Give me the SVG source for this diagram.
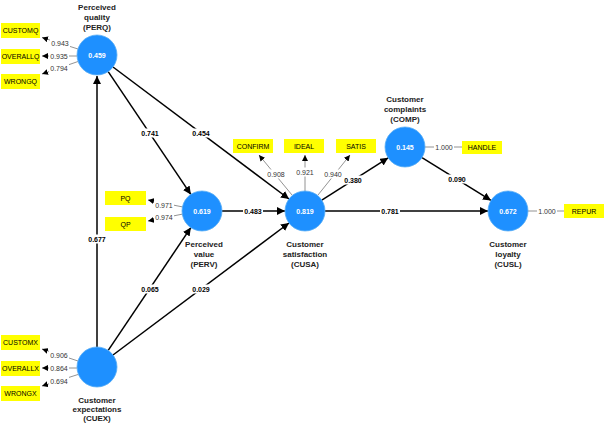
<svg xmlns="http://www.w3.org/2000/svg" width="605" height="425" viewBox="0 0 605 425">
<defs>
<marker id="ah" viewBox="0 0 10 10" refX="10" refY="5" markerWidth="8" markerHeight="8" markerUnits="userSpaceOnUse" orient="auto"><path d="M0,0 L10,5 L0,10 z" fill="#000"/></marker>
<marker id="as" viewBox="0 0 10 10" refX="10" refY="5" markerWidth="6" markerHeight="6" markerUnits="userSpaceOnUse" orient="auto"><path d="M0,0 L10,5 L0,10 z" fill="#000"/></marker>
<style>
text{font-family:"Liberation Sans",Arial,sans-serif;text-anchor:middle;dominant-baseline:central}
.lv{fill:#1E90FF;stroke:#5aaef5;stroke-width:0.8}
.val{fill:#fff;font-weight:bold;font-size:7px}
.nl{font-weight:bold;font-size:8px;fill:#222}
.box{fill:#FFFF00}
.bt{font-size:7px;fill:#000}
.path{stroke:#000;stroke-width:1.5;fill:none;marker-end:url(#ah)}
.ld{stroke:#777;stroke-width:0.8;fill:none;marker-end:url(#as)}
.ld0{stroke:#777;stroke-width:0.8;fill:none}
.bg{fill:#fff}
.pc{font-weight:bold;font-size:7px;fill:#000}
.lc{font-size:7px;fill:#333}
</style>
</defs>
<rect width="605" height="425" fill="#fff"/>
<g id="connectors">
<line class="path" x1="97" y1="347" x2="97" y2="76"/>
<line class="path" x1="108.2" y1="350.4" x2="190.8" y2="227.6"/>
<line class="path" x1="113" y1="355" x2="289" y2="223"/>
<line class="path" x1="108.2" y1="71.6" x2="190.8" y2="194.4"/>
<line class="path" x1="113" y1="67" x2="289" y2="199"/>
<line class="path" x1="222" y1="211" x2="285" y2="211"/>
<line class="path" x1="321.8" y1="200.2" x2="388.2" y2="157.8"/>
<line class="path" x1="325" y1="211" x2="488" y2="211"/>
<line class="path" x1="422" y1="157.6" x2="491" y2="200.4"/>
<rect class="bg" x="87" y="234.5" width="20" height="9"/><text class="pc" x="97" y="239">0.677</text>
<rect class="bg" x="140" y="284.5" width="20" height="9"/><text class="pc" x="150" y="289">0.065</text>
<rect class="bg" x="191" y="284.5" width="20" height="9"/><text class="pc" x="201" y="289">0.029</text>
<rect class="bg" x="140" y="128.5" width="20" height="9"/><text class="pc" x="150" y="133">0.741</text>
<rect class="bg" x="191" y="128.5" width="20" height="9"/><text class="pc" x="201" y="133">0.454</text>
<rect class="bg" x="243" y="206.5" width="20" height="9"/><text class="pc" x="253" y="211">0.483</text>
<rect class="bg" x="343" y="175.5" width="20" height="9"/><text class="pc" x="353" y="180">0.380</text>
<rect class="bg" x="380" y="206.5" width="20" height="9"/><text class="pc" x="390" y="211">0.781</text>
<rect class="bg" x="447" y="174.5" width="20" height="9"/><text class="pc" x="457" y="179">0.090</text>
<line class="ld" x1="78" y1="49" x2="42" y2="37.5"/>
<line class="ld" x1="77" y1="56" x2="42" y2="56"/>
<line class="ld" x1="78" y1="61.5" x2="42" y2="74"/>
<rect class="bg" x="50" y="38.5" width="20" height="9"/><text class="lc" x="60" y="43">0.943</text>
<rect class="bg" x="49" y="51.5" width="20" height="9"/><text class="lc" x="59" y="56">0.935</text>
<rect class="bg" x="49" y="64" width="20" height="9"/><text class="lc" x="59" y="68.5">0.794</text>
<line class="ld" x1="78" y1="361" x2="42" y2="349"/>
<line class="ld" x1="77" y1="368" x2="42" y2="368"/>
<line class="ld" x1="78" y1="374.5" x2="42" y2="386"/>
<rect class="bg" x="49" y="350.5" width="20" height="9"/><text class="lc" x="59" y="355">0.906</text>
<rect class="bg" x="49" y="363.5" width="20" height="9"/><text class="lc" x="59" y="368">0.864</text>
<rect class="bg" x="49" y="376.5" width="20" height="9"/><text class="lc" x="59" y="381">0.694</text>
<line class="ld" x1="183" y1="207" x2="148" y2="200"/>
<line class="ld" x1="183" y1="214" x2="148" y2="221"/>
<rect class="bg" x="154" y="200.5" width="20" height="9"/><text class="lc" x="164" y="205">0.971</text>
<rect class="bg" x="154" y="213" width="20" height="9"/><text class="lc" x="164" y="217.5">0.974</text>
<line class="ld" x1="292" y1="195" x2="259" y2="155"/>
<line class="ld" x1="305" y1="191" x2="305" y2="155"/>
<line class="ld" x1="318" y1="195" x2="350" y2="155"/>
<rect class="bg" x="266" y="169.5" width="20" height="9"/><text class="lc" x="276" y="174">0.908</text>
<rect class="bg" x="295" y="167.5" width="20" height="9"/><text class="lc" x="305" y="172">0.921</text>
<rect class="bg" x="323" y="169.5" width="20" height="9"/><text class="lc" x="333" y="174">0.940</text>
<line class="ld0" x1="425" y1="147" x2="462" y2="147"/>
<rect class="bg" x="434" y="142.5" width="20" height="9"/><text class="lc" x="444" y="147">1.000</text>
<line class="ld0" x1="528" y1="211" x2="564" y2="211"/>
<rect class="bg" x="537" y="206.5" width="20" height="9"/><text class="lc" x="547" y="211">1.000</text>
</g>
<g id="PERQ">
<circle class="lv" cx="97" cy="55" r="20"/>
<text class="val" x="97" y="55">0.459</text>
<text class="nl" x="97" y="7">Perceived</text>
<text class="nl" x="97" y="17">quality</text>
<text class="nl" x="97" y="27">(PERQ)</text>
</g>
<g id="PERV">
<circle class="lv" cx="202" cy="211" r="20"/>
<text class="val" x="202" y="211">0.619</text>
<text class="nl" x="204" y="244">Perceived</text>
<text class="nl" x="204" y="254">value</text>
<text class="nl" x="204" y="264">(PERV)</text>
</g>
<g id="CUSA">
<circle class="lv" cx="305" cy="211" r="20"/>
<text class="val" x="305" y="211">0.819</text>
<text class="nl" x="305" y="244">Customer</text>
<text class="nl" x="305" y="254">satisfaction</text>
<text class="nl" x="305" y="264">(CUSA)</text>
</g>
<g id="COMP">
<circle class="lv" cx="405" cy="147" r="20"/>
<text class="val" x="405" y="147">0.145</text>
<text class="nl" x="405" y="99">Customer</text>
<text class="nl" x="405" y="109">complaints</text>
<text class="nl" x="405" y="119">(COMP)</text>
</g>
<g id="CUSL">
<circle class="lv" cx="508" cy="211" r="20"/>
<text class="val" x="508" y="211">0.672</text>
<text class="nl" x="508" y="244">Customer</text>
<text class="nl" x="508" y="254">loyalty</text>
<text class="nl" x="508" y="264">(CUSL)</text>
</g>
<g id="CUEX">
<circle class="lv" cx="97" cy="367" r="20"/>
<text class="nl" x="97" y="400">Customer</text>
<text class="nl" x="97" y="409">expectations</text>
<text class="nl" x="97" y="418">(CUEX)</text>
</g>
<g id="CUSTOMQ"><rect class="box" x="1" y="23" width="39" height="15"/><text class="bt" x="20.5" y="30.5">CUSTOMQ</text></g>
<g id="OVERALLQ"><rect class="box" x="1" y="49" width="39" height="15"/><text class="bt" x="20.5" y="56.5">OVERALLQ</text></g>
<g id="WRONGQ"><rect class="box" x="1" y="74" width="39" height="15"/><text class="bt" x="20.5" y="81.5">WRONGQ</text></g>
<g id="CUSTOMX"><rect class="box" x="1" y="335" width="39" height="15"/><text class="bt" x="20.5" y="342.5">CUSTOMX</text></g>
<g id="OVERALLX"><rect class="box" x="1" y="361" width="39" height="15"/><text class="bt" x="20.5" y="368.5">OVERALLX</text></g>
<g id="WRONGX"><rect class="box" x="1" y="386" width="39" height="15"/><text class="bt" x="20.5" y="393.5">WRONGX</text></g>
<g id="PQ"><rect class="box" x="105" y="191" width="41" height="14"/><text class="bt" x="125.5" y="198">PQ</text></g>
<g id="QP"><rect class="box" x="105" y="217" width="41" height="14"/><text class="bt" x="125.5" y="224">QP</text></g>
<g id="CONFIRM"><rect class="box" x="233" y="139" width="40" height="14"/><text class="bt" x="253" y="146">CONFIRM</text></g>
<g id="IDEAL"><rect class="box" x="284" y="139" width="40" height="14"/><text class="bt" x="304" y="146">IDEAL</text></g>
<g id="SATIS"><rect class="box" x="336" y="139" width="40" height="14"/><text class="bt" x="356" y="146">SATIS</text></g>
<g id="HANDLE"><rect class="box" x="462" y="141" width="40" height="13"/><text class="bt" x="482" y="147.5">HANDLE</text></g>
<g id="REPUR"><rect class="box" x="564" y="204" width="40" height="14"/><text class="bt" x="584" y="211">REPUR</text></g>
</svg>
